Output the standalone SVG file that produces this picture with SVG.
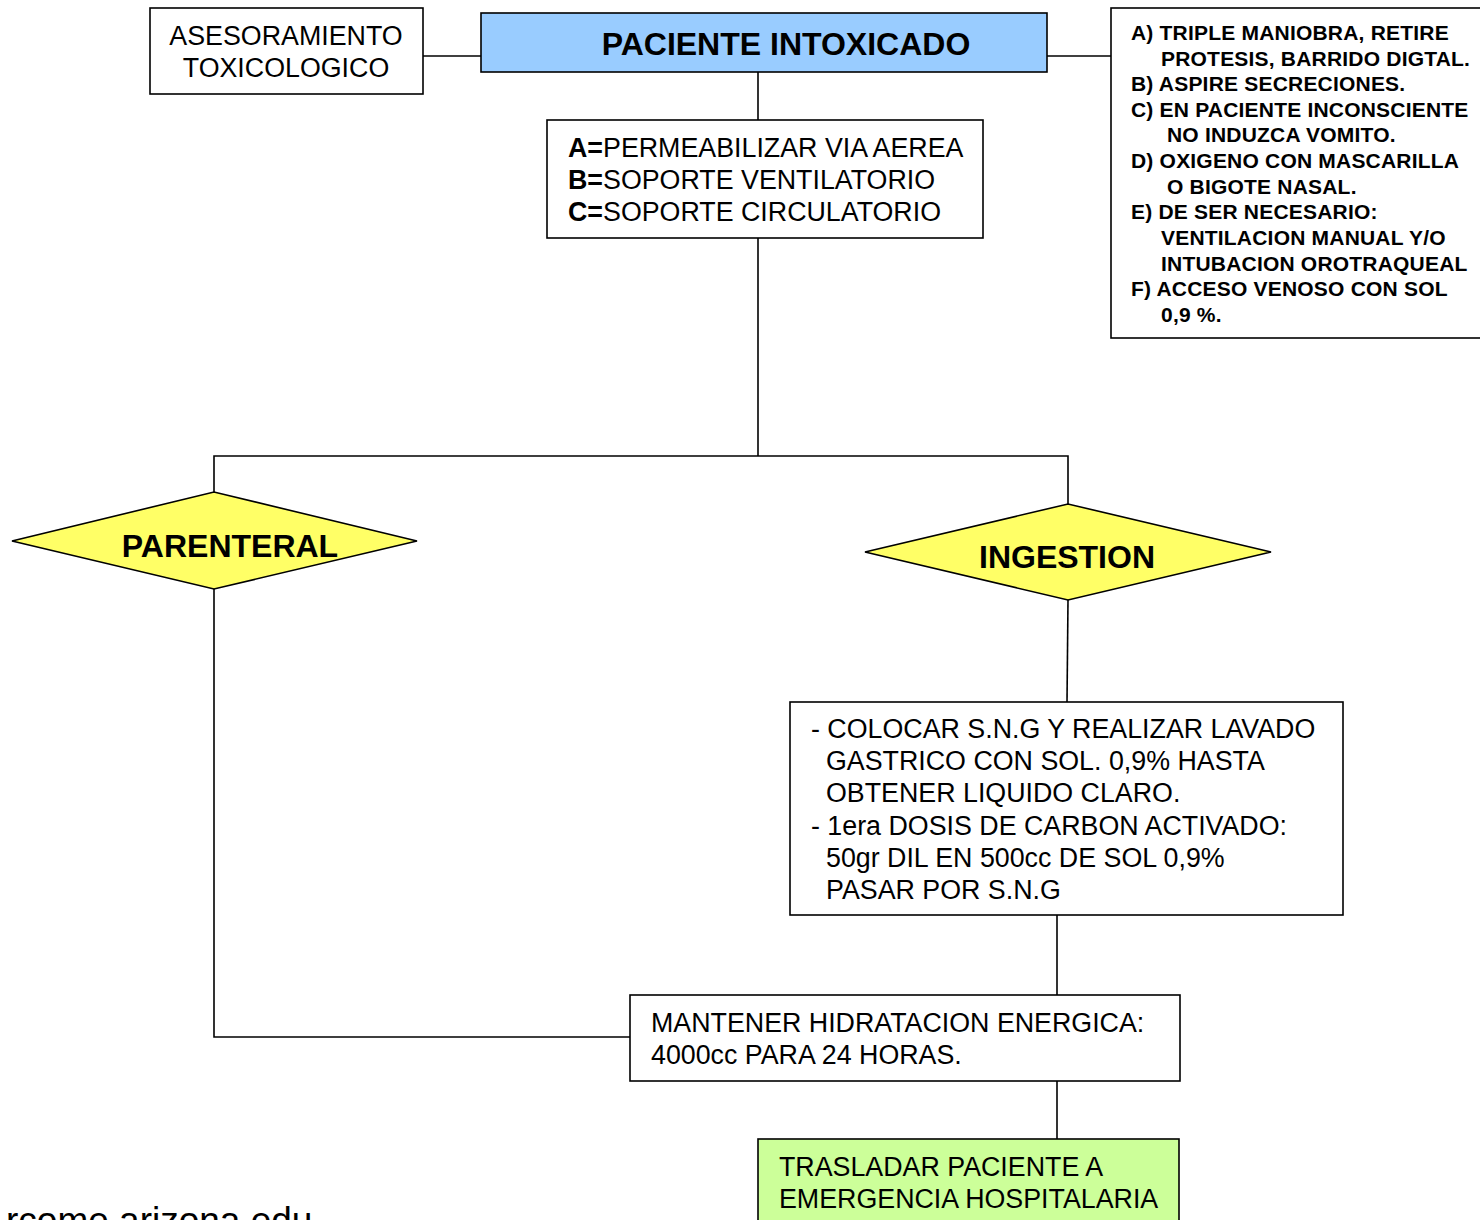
<svg xmlns="http://www.w3.org/2000/svg" width="1480" height="1220" viewBox="0 0 1480 1220">
<style>
.box{fill:#fff;stroke:#000;stroke-width:1.6}
.conn line,.conn polyline{stroke:#000;stroke-width:1.6;fill:none}
.t{font-family:"Liberation Sans",Arial,sans-serif;font-size:26.8px;fill:#000}
.b{font-weight:bold}
.s{font-family:"Liberation Sans",Arial,sans-serif;font-size:21px;letter-spacing:0.2px;font-weight:bold;fill:#000}
.dia{fill:#FFFF66;stroke:#000;stroke-width:1.6}
</style>
<rect width="1480" height="1220" fill="#fff"/>
<g class="conn" id="connectors">
<line x1="423" y1="56" x2="487" y2="56"/>
<line x1="1047" y1="56" x2="1111" y2="56"/>
<line x1="758" y1="72" x2="758" y2="120"/>
<line x1="758" y1="238" x2="758" y2="456"/>
<polyline points="214,492 214,456 1068,456 1068,504"/>
<line x1="1068" y1="600" x2="1067" y2="702"/>
<line x1="1057" y1="915" x2="1057" y2="995"/>
<polyline points="214,589 214,1037 630,1037"/>
<line x1="1057" y1="1081" x2="1057" y2="1139"/>
</g>
<g id="asesoramiento">
<rect class="box" x="150" y="8" width="273" height="86"/>
<text class="t" x="286" y="45" text-anchor="middle">ASESORAMIENTO</text>
<text class="t" x="286" y="77" text-anchor="middle">TOXICOLOGICO</text>
</g>
<g id="paciente">
<rect x="481" y="13" width="566" height="59" fill="#99CCFF" stroke="#000" stroke-width="1.6"/>
<text class="t b" x="786" y="55" text-anchor="middle" style="font-size:32px">PACIENTE INTOXICADO</text>
</g>
<g id="medidas">
<rect class="box" x="1111" y="8" width="380" height="330"/>
<text class="s" x="1131" y="40">A) TRIPLE MANIOBRA, RETIRE</text>
<text class="s" x="1161" y="66">PROTESIS, BARRIDO DIGTAL.</text>
<text class="s" x="1131" y="91">B) ASPIRE SECRECIONES.</text>
<text class="s" x="1131" y="117">C) EN PACIENTE INCONSCIENTE</text>
<text class="s" x="1167" y="142">NO INDUZCA VOMITO.</text>
<text class="s" x="1131" y="168">D) OXIGENO CON MASCARILLA</text>
<text class="s" x="1167" y="194">O BIGOTE NASAL.</text>
<text class="s" x="1131" y="219">E) DE SER NECESARIO:</text>
<text class="s" x="1161" y="245">VENTILACION MANUAL Y/O</text>
<text class="s" x="1161" y="271">INTUBACION OROTRAQUEAL</text>
<text class="s" x="1131" y="296">F) ACCESO VENOSO CON SOL</text>
<text class="s" x="1161" y="322">0,9 %.</text>
</g>
<g id="abc">
<rect class="box" x="547" y="120" width="436" height="118"/>
<text class="t" x="568" y="157"><tspan class="b">A=</tspan>PERMEABILIZAR VIA AEREA</text>
<text class="t" x="568" y="189"><tspan class="b">B=</tspan>SOPORTE VENTILATORIO</text>
<text class="t" x="568" y="221"><tspan class="b">C=</tspan>SOPORTE CIRCULATORIO</text>
</g>
<g id="parenteral">
<polygon class="dia" points="12,541 214,492 417,541 214,589"/>
<text class="t b" x="230" y="557" text-anchor="middle" style="font-size:32px">PARENTERAL</text>
</g>
<g id="ingestion">
<polygon class="dia" points="865,552 1068,504 1271,552 1068,600"/>
<text class="t b" x="1067" y="568" text-anchor="middle" style="font-size:32px">INGESTION</text>
</g>
<g id="lavado">
<rect class="box" x="790" y="702" width="553" height="213"/>
<text class="t" x="811" y="738">- COLOCAR S.N.G Y REALIZAR LAVADO</text>
<text class="t" x="826" y="770">GASTRICO CON SOL. 0,9% HASTA</text>
<text class="t" x="826" y="802">OBTENER LIQUIDO CLARO.</text>
<text class="t" x="811" y="835">- 1era DOSIS DE CARBON ACTIVADO:</text>
<text class="t" x="826" y="867">50gr DIL EN 500cc DE SOL 0,9%</text>
<text class="t" x="826" y="899">PASAR POR S.N.G</text>
</g>
<g id="hidratacion">
<rect class="box" x="630" y="995" width="550" height="86"/>
<text class="t" x="651" y="1032">MANTENER HIDRATACION ENERGICA:</text>
<text class="t" x="651" y="1064">4000cc PARA 24 HORAS.</text>
</g>
<g id="traslado">
<rect x="758" y="1139" width="421" height="100" fill="#CCFF99" stroke="#000" stroke-width="1.6"/>
<text class="t" x="779" y="1176">TRASLADAR PACIENTE A</text>
<text class="t" x="779" y="1208">EMERGENCIA HOSPITALARIA</text>
</g>
<text class="t" x="6" y="1233" style="font-size:37px">rcome.arizona.edu</text>
</svg>
